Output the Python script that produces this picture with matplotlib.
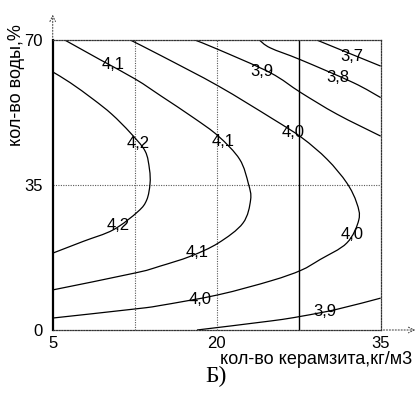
import matplotlib
matplotlib.use('Agg')
import matplotlib.pyplot as plt
from matplotlib.path import Path
from matplotlib.patches import PathPatch
import numpy as np

plt.rcParams['font.family'] = ['Liberation Sans', 'DejaVu Sans']

# isolines of the response surface, traced as (керамзит, вода) pairs
lvl_42_x = [5.0, 6.6, 8.7, 10.4, 12.1, 13.45, 13.85, 13.9, 13.6, 12.8, 10.55, 7.8, 5.05]
lvl_42_y = [62.3, 59.7, 55.7, 52.1, 47.6, 43.2, 38.8, 35.3, 31.4, 28.6, 24.2, 21.4, 18.6]

lvl_41_x = [6.1, 9.3, 12.6, 14.9, 17.9, 20.15, 22.1, 22.9, 23.1, 22.4, 20.15, 17.6, 14.8, 12.6, 5.05]
lvl_41_y = [70.0, 65.3, 60.5, 56.5, 51.2, 46.8, 41.2, 35.3, 31.4, 25.8, 21.0, 17.8, 15.4, 13.8, 9.7]

lvl_40_x = [12.1, 15.0, 20.15, 25.1, 27.8, 30.1, 31.9, 32.8, 33.0, 31.9, 29.45, 27.7, 25.0, 20.15, 14.8, 12.6, 5.05]
lvl_40_y = [70.0, 66.1, 58.9, 51.0, 46.4, 41.2, 35.5, 30.7, 26.6, 21.0, 17.0, 14.4, 11.9, 8.5, 5.9, 5.1, 2.9]

lvl_39_top_x = [18.0, 20.15, 24.9, 27.7, 31.0, 35.0]
lvl_39_top_y = [70.0, 67.7, 62.1, 57.3, 52.1, 46.8]
lvl_39_bot_x = [18.2, 25.0, 27.7, 31.0, 35.0]
lvl_39_bot_y = [0.0, 2.2, 3.3, 5.0, 7.7]

lvl_38_x = [23.9, 24.9, 27.7, 32.5, 35.0]
lvl_38_y = [70.0, 68.1, 65.2, 59.7, 56.1]

lvl_37_x = [29.15, 32.3, 35.0]
lvl_37_y = [70.0, 66.6, 63.7]

# level captions and where they sit on the lines
label_text = ['4,1', '4,2', '4,1', '3,9', '3,8', '3,7', '4,0', '4,2', '4,1', '4,0', '4,0', '3,9']
label_x = [10.5, 12.8, 20.6, 24.1, 31.1, 32.35, 27.0, 11.0, 18.2, 18.5, 32.35, 29.9]
label_y = [64.1, 44.9, 45.6, 62.5, 60.9, 66.1, 47.6, 25.3, 18.6, 7.3, 23.0, 4.5]

x_ticks = [5, 20, 35]
y_ticks = [0, 35, 70]


def smooth_path(ax, xs, ys):
    # Catmull-Rom through the traced points, drawn as cubic Bezier segments
    # in display space so the curvature looks even on screen
    pts = ax.transData.transform(np.column_stack([xs, ys]))
    n = len(pts)
    verts = [pts[0]]
    codes = [Path.MOVETO]
    for i in range(n - 1):
        p0 = pts[i - 1] if i > 0 else pts[i]
        p1, p2 = pts[i], pts[i + 1]
        p3 = pts[i + 2] if i + 2 < n else pts[i + 1]
        verts += [p1 + (p2 - p0) / 6, p2 - (p3 - p1) / 6, p2]
        codes += [Path.CURVE4] * 3
    return Path(ax.transData.inverted().transform(np.array(verts)), codes)


fig = plt.figure(figsize=(4.2, 3.93), dpi=100)
ax = fig.add_axes([0.1255, 0.1603, 0.7809, 0.7379])
ax.set_xlim(5, 35)
ax.set_ylim(0, 70)

dot = (0, (1, 1.2))
for gx in [12.5, 20]:
    ax.axvline(gx, color='0.35', lw=0.8, ls=dot, zorder=1)
ax.axvline(27.5, color='black', lw=1.0, zorder=1)
ax.axhline(35, color='0.35', lw=0.8, ls=dot, zorder=1)

lines = [
    (lvl_42_x, lvl_42_y), (lvl_41_x, lvl_41_y), (lvl_40_x, lvl_40_y),
    (lvl_39_top_x, lvl_39_top_y), (lvl_39_bot_x, lvl_39_bot_y),
    (lvl_38_x, lvl_38_y), (lvl_37_x, lvl_37_y),
]
for xs, ys in lines:
    ax.add_patch(PathPatch(smooth_path(ax, xs, ys), fill=False,
                           edgecolor='black', lw=0.9, zorder=2))

for t, lx, ly in zip(label_text, label_x, label_y):
    ax.text(lx, ly, t, fontsize=12, ha='center', va='center', zorder=3)

ax.spines['left'].set_linewidth(1.6)
for side in ['top', 'bottom', 'right']:
    ax.spines[side].set_linestyle(dot)
    ax.spines[side].set_linewidth(0.9)
    ax.spines[side].set_color('0.2')

ax.set_xticks(x_ticks)
ax.set_yticks(y_ticks)
ax.tick_params(length=0, labelsize=12)
ax.tick_params(axis='x', pad=4)
ax.tick_params(axis='y', pad=7)

# axis arrows
ax.annotate('', xy=(0, 1.097), xytext=(0, 1.0), xycoords='axes fraction',
            arrowprops=dict(arrowstyle='->', ls=':', lw=0.8, color='0.3'),
            annotation_clip=False)
ax.annotate('', xy=(1.114, 0), xytext=(1.0, 0), xycoords='axes fraction',
            arrowprops=dict(arrowstyle='->', ls=':', lw=0.8, color='0.3'),
            annotation_clip=False)

fig.text(17 / 420, 1 - 85 / 393, 'кол-во воды,%', rotation=90, fontsize=13,
         ha='center', va='center')
fig.text(220 / 420, 1 - 359 / 393, 'кол-во керамзита,кг/м3', fontsize=13,
         ha='left', va='center')
fig.text(216 / 420, 1 - 376 / 393, 'Б)', fontsize=17, family='Liberation Serif',
         ha='center', va='center')

fig.savefig('out.png', dpi=100)
